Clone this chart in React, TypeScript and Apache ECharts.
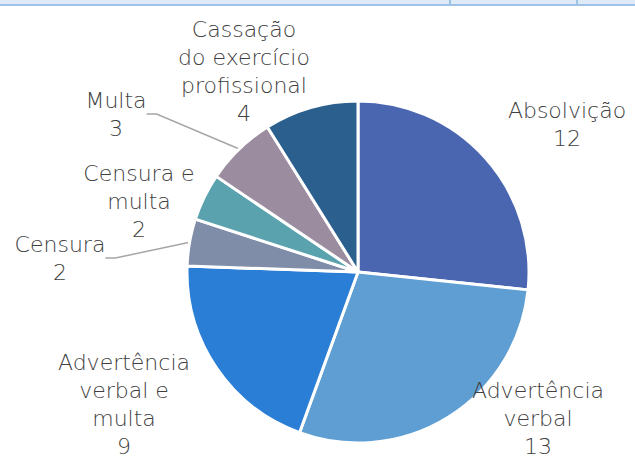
import React, { useEffect, useRef } from "react";
import * as echarts from "echarts";

const categories = [
  "Absolvição",
  "Advertência\nverbal",
  "Advertência\nverbal e\nmulta",
  "Censura",
  "Censura e\nmulta",
  "Multa",
  "Cassação\ndo exercício\nprofissional",
];
const values = [12, 13, 9, 2, 2, 3, 4];
const colors = ["#4a66b0", "#5f9ed2", "#2a7ed6", "#7f8da9", "#5aa3ae", "#9c8c9f", "#2b5f8e"];

// label centre positions (layout only)
const labelPos: [number, number][] = [
  [567, 124],
  [538, 418],
  [124, 404],
  [60, 258],
  [139, 201],
  [116, 114],
  [244, 71],
];
const withLine = [false, false, false, true, false, true, false];

export default function App() {
  const ref = useRef<HTMLDivElement>(null);
  useEffect(() => {
    if (!ref.current) return;
    const chart = echarts.init(ref.current, undefined, { renderer: "svg" });
    chart.setOption({
      animation: false,
      backgroundColor: "#ffffff",
      graphic: [
        { type: "rect", shape: { x: 0, y: 0, width: 635, height: 4 }, style: { fill: "#deeaf7" } },
        { type: "line", shape: { x1: 0, y1: 5, x2: 635, y2: 5 }, style: { stroke: "#9dc3e6", lineWidth: 2 } },
        { type: "line", shape: { x1: 450, y1: 0, x2: 450, y2: 5 }, style: { stroke: "#9dc3e6", lineWidth: 2 } },
        { type: "line", shape: { x1: 577, y1: 0, x2: 577, y2: 5 }, style: { stroke: "#9dc3e6", lineWidth: 2 } },
      ],
      series: [
        {
          type: "pie",
          center: [358, 272],
          radius: [0, 171],
          startAngle: 90,
          clockwise: true,
          avoidLabelOverlap: false,
          itemStyle: { borderColor: "#ffffff", borderWidth: 3 },
          label: {
            show: true,
            position: "outside",
            formatter: (p: any) => `${p.name}\n${p.value}`,
            fontFamily: "DejaVu Sans",
            fontWeight: 200,
            fontSize: 22,
            lineHeight: 28,
            color: "#404040",
            align: "center",
          },
          labelLine: {
            show: true,
            length: 10,
            length2: 10,
            lineStyle: { color: "#a6a6a6", width: 1.5 },
          },
          labelLayout: (params: any) => {
            const pos = labelPos[params.dataIndex];
            return {
              x: pos[0],
              y: pos[1],
              align: "center",
              verticalAlign: "middle",
            };
          },
          data: categories.map((name, i) => ({
            name,
            value: values[i],
            itemStyle: { color: colors[i] },
            labelLine: { show: withLine[i] },
          })),
        },
      ],
    });
    return () => chart.dispose();
  }, []);
  return (
    <div
      ref={ref}
      style={{ position: "fixed", left: 0, top: 0, width: 635, height: 459 }}
    />
  );
}
